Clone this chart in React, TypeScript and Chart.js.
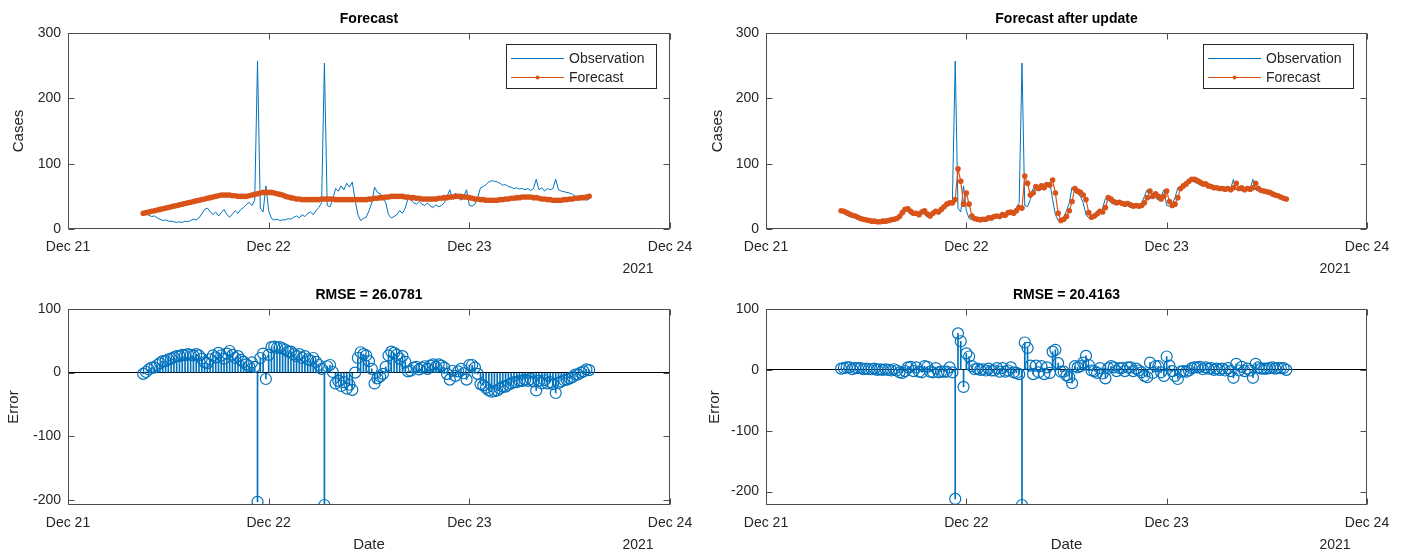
import { useEffect, useRef } from 'react';
import { Chart, registerables } from 'chart.js';

Chart.register(...registerables);

// ---------------- data ----------------
// time axis in hours after Dec 21 00:00; one sample every 20 minutes from Dec 21 09:00
const START_HOUR = 9;
const STEP_HOURS = 1 / 3;
const X_TICK_HOURS = [0, 24, 48, 72];
const X_TICK_LABELS = ['Dec 21', 'Dec 22', 'Dec 23', 'Dec 24'];
const YEAR_LABEL = '2021';
const CASES_TICKS = [0, 100, 200, 300];
const ERROR_TICKS = [-200, -100, 0, 100];
const TITLES = ['Forecast', 'Forecast after update', 'RMSE = 26.0781', 'RMSE = 20.4163'];
const SERIES_LABELS = ['Observation', 'Forecast'];

const OBSERVATION = [
  26, 24, 21, 19, 20, 17, 15, 13, 14, 12, 12, 11,
  10, 11, 10, 12, 11, 13, 15, 14, 17, 23, 30, 32,
  27, 22, 26, 20, 25, 30, 22, 18, 23, 28, 24, 30,
  33, 37, 41, 36, 44, 257, 32, 26, 66, 28, 16, 14,
  15, 13, 14, 14, 16, 15, 18, 20, 17, 22, 19, 24,
  26, 22, 28, 33, 40, 254, 36, 34, 45, 62, 58, 66,
  60, 70, 64, 72, 45, 22, 13, 16, 18, 28, 40, 64,
  56, 54, 50, 40, 22, 17, 19, 22, 28, 24, 32, 47,
  45, 40, 38, 42, 38, 36, 40, 35, 33, 37, 34, 36,
  40, 50, 60, 46, 55, 48, 44, 50, 60, 36, 35, 38,
  48, 63, 65, 68, 72, 74, 73, 72, 70, 67, 68, 65,
  64, 62, 63, 61, 62, 60, 62, 59, 62, 76, 60, 63,
  58, 62, 60, 62, 76, 60, 58, 57, 56, 55, 53, 50,
  50, 48, 46, 44, 46,
];

const FORECAST = [
  24, 25, 26, 27, 28, 29, 30, 31, 32, 33, 34, 35,
  36, 37, 38, 39, 40, 41, 42, 43, 44, 45, 46, 47,
  48, 49, 50, 51, 52, 52, 52, 52, 51, 51, 50, 50,
  50, 50, 51, 52, 53, 54, 55, 56, 56, 56, 56, 55,
  54, 53, 52, 50, 49, 48, 47, 46, 46, 45, 45, 45,
  45, 45, 45, 45, 46, 46, 46, 46, 46, 45, 45, 45,
  45, 45, 45, 45, 45, 45, 45, 45, 45, 46, 46, 47,
  47, 48, 48, 49, 49, 50, 50, 50, 50, 50, 49, 49,
  48, 48, 47, 47, 46, 46, 46, 46, 46, 46, 47, 47,
  48, 48, 49, 49, 50, 50, 50, 49, 49, 48, 47, 46,
  46, 45, 45, 44, 44, 44, 44, 44, 45, 45, 46, 46,
  47, 47, 48, 48, 49, 49, 49, 49, 48, 48, 47, 46,
  46, 45, 45, 44, 44, 44, 44, 45, 45, 46, 46, 47,
  47, 48, 48, 49, 50,
];

const FORECAST_UPDATED = [
  28, 27, 25, 23, 21, 20, 18, 16, 15, 14, 13, 12,
  12, 11, 11, 12, 12, 13, 14, 15, 16, 19, 25, 30,
  31, 27, 24, 24, 22, 26, 28, 23, 20, 24, 27, 26,
  30, 34, 38, 40, 40, 45, 92, 73, 38, 55, 38, 20,
  16, 15, 14, 15, 15, 17, 17, 19, 20, 19, 22, 21,
  25, 26, 24, 28, 33, 32, 81, 70, 52, 55, 65, 62,
  66, 63, 68, 67, 75, 55, 24, 13, 15, 19, 28, 42,
  62, 58, 56, 52, 45, 25, 18, 20, 23, 27, 26, 33,
  48, 46, 42, 40, 41, 39, 38, 39, 37, 35, 36, 35,
  36, 40, 48, 58, 50, 54, 50, 46, 50, 58, 42, 36,
  38, 48, 62, 66, 69, 73, 76, 76, 74, 72, 69, 69,
  66, 65, 63, 63, 62, 62, 61, 62, 60, 63, 70, 62,
  63, 60, 62, 61, 63, 70, 62, 59, 58, 57, 56, 54,
  52, 51, 49, 47, 46,
];

// ---------------- styling / layout ----------------
const BLUE = '#0072BD';
const ORANGE = '#D95319';
const AXIS_COLOR = '#4d4d4d';
const TEXT_COLOR = '#262626';
const FONT_FAMILY = '"Liberation Sans", Arial, Helvetica, sans-serif';
const TICK_FONT = { family: FONT_FAMILY, size: 14 };

type Area = { l: number; t: number; r: number; b: number };
type PanelSpec = {
  left: number; top: number; width: number; height: number; area: Area;
  yMin: number; yMax: number; kind: 'line' | 'stem'; forecast: number[];
  title: string; yLabel: string; yLabelOffset: number; xLabel: string;
};

const hours = OBSERVATION.map((_, i) => START_HOUR + i * STEP_HOURS);
const toPoints = (vals: number[]) => vals.map((y, i) => ({ x: hours[i], y }));
const errorsOf = (fc: number[]) => fc.map((f, i) => f - OBSERVATION[i]);

const PANELS: PanelSpec[] = [
  { left: 0, top: 0, width: 704, height: 278, area: { l: 68, t: 33, r: 670, b: 229 },
    yMin: 0, yMax: 300, kind: 'line', forecast: FORECAST, title: TITLES[0], yLabel: 'Cases', yLabelOffset: 49, xLabel: '' },
  { left: 704, top: 0, width: 704, height: 278, area: { l: 62, t: 33, r: 663, b: 229 },
    yMin: 0, yMax: 300, kind: 'line', forecast: FORECAST_UPDATED, title: TITLES[1], yLabel: 'Cases', yLabelOffset: 48, xLabel: '' },
  { left: 0, top: 278, width: 704, height: 278, area: { l: 68, t: 31, r: 670, b: 227 },
    yMin: -208, yMax: 100, kind: 'stem', forecast: FORECAST, title: TITLES[2], yLabel: 'Error', yLabelOffset: 54, xLabel: 'Date' },
  { left: 704, top: 278, width: 704, height: 278, area: { l: 62, t: 31, r: 663, b: 227 },
    yMin: -222, yMax: 100, kind: 'stem', forecast: FORECAST_UPDATED, title: TITLES[3], yLabel: 'Error', yLabelOffset: 51, xLabel: 'Date' },
];

const matlabFrame = {
  id: 'matlabFrame',
  afterDraw(chart: any, _args: any, o: any) {
    const { ctx, chartArea: a, scales } = chart;
    const xs = scales.x;
    const ys = scales.y;
    ctx.save();
    const L = Math.round(a.left) + 0.5;
    const R = Math.round(a.right) - 0.5;
    const T = Math.round(a.top) + 0.5;
    const B = Math.round(a.bottom) - 0.5;
    ctx.strokeStyle = AXIS_COLOR;
    ctx.lineWidth = 1;
    ctx.strokeRect(L, T, R - L, B - T);
    ctx.beginPath();
    xs.ticks.forEach((t: any) => {
      const px = Math.round(xs.getPixelForValue(t.value)) + 0.5;
      ctx.moveTo(px, B); ctx.lineTo(px, B - 6);
      ctx.moveTo(px, T); ctx.lineTo(px, T + 6);
    });
    ys.ticks.forEach((t: any) => {
      const py = Math.round(ys.getPixelForValue(t.value)) + 0.5;
      ctx.moveTo(L, py); ctx.lineTo(L + 6, py);
      ctx.moveTo(R, py); ctx.lineTo(R - 6, py);
    });
    ctx.stroke();

    const cx = (a.left + a.right) / 2;
    ctx.fillStyle = '#000';
    ctx.textAlign = 'center';
    ctx.textBaseline = 'middle';
    ctx.font = `bold 14px ${FONT_FAMILY}`;
    ctx.fillText(o.title, cx, a.top - 14);

    ctx.fillStyle = TEXT_COLOR;
    ctx.font = `15px ${FONT_FAMILY}`;
    ctx.save();
    ctx.translate(a.left - o.yLabelOffset, (a.top + a.bottom) / 2);
    ctx.rotate(-Math.PI / 2);
    ctx.fillText(o.yLabel, 0, 0);
    ctx.restore();
    if (o.xLabel) ctx.fillText(o.xLabel, cx, a.bottom + 40);
    ctx.font = `14px ${FONT_FAMILY}`;
    ctx.fillText(YEAR_LABEL, a.right - 32, a.bottom + 40);

    if (o.legend) {
      const bw = 150, bh = 44;
      const bx = Math.round(a.right - 14 - bw), by = Math.round(a.top + 11);
      ctx.fillStyle = '#fff';
      ctx.fillRect(bx, by, bw, bh);
      ctx.strokeStyle = TEXT_COLOR;
      ctx.strokeRect(bx + 0.5, by + 0.5, bw, bh);
      chart.data.datasets.forEach((ds: any, i: number) => {
        const ry = by + 14 + i * 19;
        ctx.strokeStyle = ds.borderColor;
        ctx.lineWidth = 1;
        ctx.beginPath();
        ctx.moveTo(bx + 5, ry + 0.5); ctx.lineTo(bx + 58, ry + 0.5);
        ctx.stroke();
        if (ds.pointRadius > 0) {
          ctx.fillStyle = ds.borderColor;
          ctx.beginPath();
          ctx.arc(bx + 31.5, ry + 0.5, 2, 0, Math.PI * 2);
          ctx.fill();
        }
        ctx.fillStyle = TEXT_COLOR;
        ctx.textAlign = 'left';
        ctx.font = `14px ${FONT_FAMILY}`;
        ctx.fillText(ds.label, bx + 63, ry + 1);
      });
    }
    ctx.restore();
  },
};

function makeConfig(p: PanelSpec): any {
  const a = p.area;
  const yTicks = p.kind === 'line' ? CASES_TICKS : ERROR_TICKS;
  const datasets: any[] = p.kind === 'line'
    ? [
        { type: 'line', label: SERIES_LABELS[0], data: toPoints(OBSERVATION), borderColor: BLUE, backgroundColor: BLUE,
          borderWidth: 1, pointRadius: 0, tension: 0, order: 1 },
        { type: 'line', label: SERIES_LABELS[1], data: toPoints(p.forecast), borderColor: ORANGE, backgroundColor: ORANGE,
          borderWidth: 1.2, pointRadius: 2.8, pointBorderWidth: 0, pointBackgroundColor: ORANGE, tension: 0, order: 0 },
      ]
    : [
        { type: 'line', label: 'Error', data: toPoints(errorsOf(p.forecast)), showLine: false, pointStyle: 'circle',
          pointRadius: 5.5, pointBorderWidth: 1.2, pointBorderColor: BLUE, pointBackgroundColor: 'rgba(0,0,0,0)',
          borderColor: BLUE, order: 0 },
        { type: 'bar', label: 'Stem', data: toPoints(errorsOf(p.forecast)), backgroundColor: BLUE, borderWidth: 0,
          barThickness: 1, order: 1 },
      ];
  return {
    type: 'line',
    data: { datasets },
    options: {
      responsive: false,
      animation: false,
      devicePixelRatio: 1,
      events: [],
      layout: { padding: { left: 0, top: a.t, right: p.width - a.r, bottom: 0 } },
      plugins: {
        legend: { display: false },
        tooltip: { enabled: false },
        title: { display: false },
        matlabFrame: { title: p.title, yLabel: p.yLabel, yLabelOffset: p.yLabelOffset, xLabel: p.xLabel, legend: p.kind === 'line' },
      },
      scales: {
        x: {
          type: 'linear', min: X_TICK_HOURS[0], max: X_TICK_HOURS[X_TICK_HOURS.length - 1], offset: false, bounds: 'data',
          grid: { display: false, drawTicks: false },
          border: { display: false },
          afterBuildTicks: (s: any) => { s.ticks = X_TICK_HOURS.map((v) => ({ value: v })); },
          ticks: { autoSkip: false, maxRotation: 0, minRotation: 0, padding: 10, color: TEXT_COLOR, font: TICK_FONT,
            callback: (_v: any, i: number) => X_TICK_LABELS[i] },
          afterFit: (s: any) => { s.height = p.height - a.b; s.paddingLeft = 0; s.paddingRight = 0; },
        },
        y: {
          type: 'linear', min: p.yMin, max: p.yMax, bounds: 'data',
          grid: {
            display: p.kind === 'stem', drawTicks: false, lineWidth: 1,
            color: (c: any) => (c.tick && c.tick.value === 0 ? '#000000' : 'rgba(0,0,0,0)'),
          },
          border: { display: false },
          afterBuildTicks: (s: any) => { s.ticks = yTicks.map((v) => ({ value: v })); },
          ticks: { padding: 7, color: TEXT_COLOR, font: TICK_FONT, callback: (v: any) => String(v) },
          afterFit: (s: any) => { s.width = a.l; s.paddingTop = 0; s.paddingBottom = 0; },
        },
      },
    },
    plugins: [matlabFrame],
  };
}

function Panel({ spec }: { spec: PanelSpec }) {
  const ref = useRef<HTMLCanvasElement>(null);
  useEffect(() => {
    const chart = new Chart(ref.current as HTMLCanvasElement, makeConfig(spec));
    return () => chart.destroy();
  }, [spec]);
  return (
    <canvas
      ref={ref}
      width={spec.width}
      height={spec.height}
      style={{ position: 'absolute', left: spec.left, top: spec.top, width: spec.width, height: spec.height }}
    />
  );
}

export default function App() {
  return (
    <div style={{ position: 'absolute', left: 0, top: 0, width: 1408, height: 556, background: '#fff', overflow: 'hidden' }}>
      {PANELS.map((p, i) => (
        <Panel key={i} spec={p} />
      ))}
    </div>
  );
}
